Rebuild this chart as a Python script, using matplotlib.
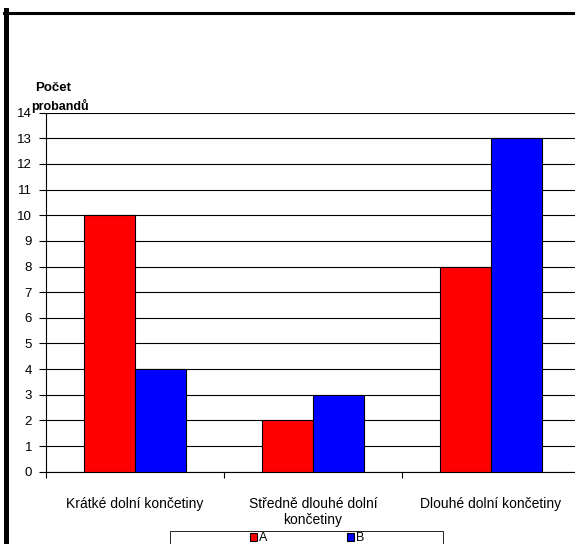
import matplotlib
matplotlib.use("Agg")
import matplotlib.pyplot as plt
from matplotlib.lines import Line2D
from matplotlib.patches import Rectangle
from matplotlib.ticker import FixedLocator

plt.rcParams['font.family'] = ['Liberation Sans', 'DejaVu Sans']

categories = ["Krátké dolní končetiny", "Středně dlouhé dolní\nkončetiny", "Dlouhé dolní končetiny"]
series_names = ["A", "B"]
values_a = [10, 2, 8]
values_b = [4, 3, 13]
y_ticks = list(range(0, 15))

W, H = 575, 544
fig = plt.figure(figsize=(W / 100, H / 100), dpi=100)

ax_left, ax_right = 46 / W, 580 / W
ax_bottom, ax_top = 1 - 471.7 / H, 1 - 112.7 / H
ax = fig.add_axes([ax_left, ax_bottom, ax_right - ax_left, ax_top - ax_bottom])

x = list(range(len(categories)))
bw = 0.287
ax.bar([i - bw / 2 for i in x], values_a, width=bw, color="#FF0000",
       edgecolor="black", linewidth=0.8, label=series_names[0], zorder=3)
ax.bar([i + bw / 2 for i in x], values_b, width=bw, color="#0000FF",
       edgecolor="black", linewidth=0.8, label=series_names[1], zorder=3)

ax.set_xlim(-0.5, 2.5)
ax.set_ylim(0, 14)
ax.set_yticks(y_ticks)
ax.set_yticklabels([str(t) for t in y_ticks], fontsize=9.5)
ax.yaxis.grid(True, color="black", linewidth=0.8, zorder=0)
ax.set_axisbelow(True)

ax.set_xticks(x)
ax.set_xticklabels(categories, fontsize=10, linespacing=1.2)
ax.xaxis.set_minor_locator(FixedLocator([-0.5, 0.5, 1.5, 2.5]))
ax.tick_params(axis="x", which="major", length=0, pad=18)
ax.tick_params(axis="x", which="minor", length=4, width=0.8, direction="out")
ax.tick_params(axis="y", length=5, width=0.8, direction="out", pad=5)

for s in ["top", "right"]:
    ax.spines[s].set_visible(False)
for s in ["left", "bottom"]:
    ax.spines[s].set_linewidth(0.8)

fig.text(35 / W, 1 - 88 / H, "Počet", fontsize=9.5, fontweight="bold",
         ha="left", va="center")
fig.text(31 / W, 1 - 106 / H, "probandů", fontsize=9, fontweight="bold",
         ha="left", va="center")

# legend box and entries
fig.add_artist(Rectangle((170 / W, -0.01), 273 / W, 0.01 + 1 - 530.5 / H,
                         transform=fig.transFigure, facecolor="white",
                         edgecolor="black", linewidth=0.6))
leg = fig.legend(loc="upper center", bbox_to_anchor=(307 / W, 1 - 531 / H),
                 ncol=2, fontsize=9, frameon=False,
                 handlelength=0.55, handleheight=0.55, handletextpad=0.15,
                 columnspacing=6.4, borderpad=0.1, borderaxespad=0)

# page border
fig.add_artist(Line2D([5.5 / W, 5.5 / W], [0, 1 - 10 / H], color="black",
                      linewidth=3.6, transform=fig.transFigure))
fig.add_artist(Line2D([4 / W, 1], [1 - 12.5 / H, 1 - 12.5 / H], color="black",
                      linewidth=2.2, transform=fig.transFigure))

fig.savefig("out.png", dpi=100)
